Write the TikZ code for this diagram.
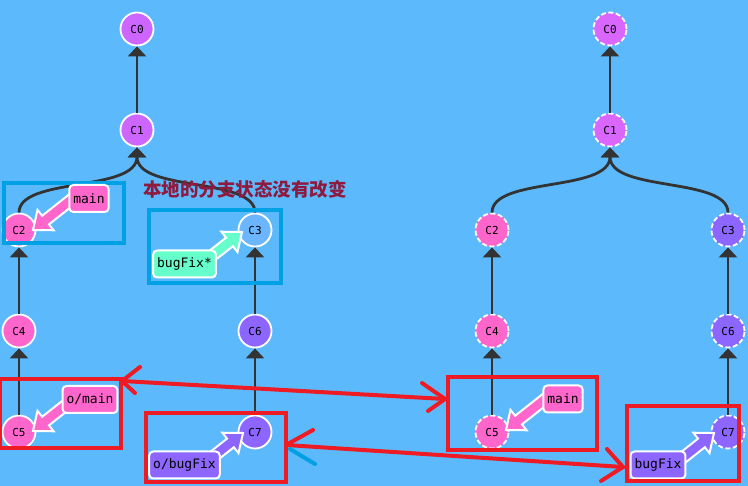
\documentclass[tikz,border=0pt]{standalone}
\usepackage{fontspec}
\usetikzlibrary{arrows.meta,calc}
\newfontfamily\cjkfont{Noto Sans CJK SC}
\newfontfamily\monof{DejaVu Sans Mono}
\definecolor{bg}{HTML}{5CBAFC}
\definecolor{edgegray}{HTML}{333333}
\definecolor{cviolet}{HTML}{CC66FF}
\definecolor{cviolet2}{HTML}{D966FF}
\definecolor{cpink}{HTML}{FF66CC}
\definecolor{cpurple}{HTML}{8C66FF}
\definecolor{clblue}{HTML}{6CB6FF}
\definecolor{cgreen}{HTML}{66FFCC}
\definecolor{boxblue}{HTML}{00A0E4}
\definecolor{boxred}{HTML}{ED1C24}
\definecolor{txtred}{HTML}{8E1B3F}
\newcommand\fatarr[3]{%
  \coordinate (fs) at (#1);
  \coordinate (fe) at (#2);
  \coordinate (fb) at ($(fe)!16pt!(fs)$);
  \filldraw[fill=#3, draw=white, line width=2pt, line join=miter]
    ($(fs)!5.5pt!90:(fe)$) -- ($(fb)!5.5pt!-90:(fs)$) -- ($(fb)!13pt!-90:(fs)$) -- (fe)
    -- ($(fb)!13pt!90:(fs)$) -- ($(fb)!5.5pt!90:(fs)$) -- ($(fs)!5.5pt!-90:(fe)$) -- cycle;}
\begin{document}
\begin{tikzpicture}[x=1pt,y=-1pt,
  commit/.style={circle, minimum size=33pt, inner sep=0pt, draw=white, line width=1.8pt,
    font=\monof\fontsize{11}{13}\selectfont, text=black},
  rcommit/.style={commit, dash pattern=on 5pt off 2.5pt},
  edge/.style={draw=edgegray, line width=2.8pt, -{Triangle[width=18pt,length=10pt]}},
  tag/.style={rounded corners=4pt, draw=white, line width=2pt,
    font=\monof\fontsize{13}{15}\selectfont, inner xsep=4pt, inner ysep=0pt,
    minimum height=27pt, text=black},
  bluebox/.style={draw=boxblue, line width=4.5pt, inner sep=0pt},
  redbox/.style={draw=boxred, line width=4.5pt, inner sep=0pt},
  redline/.style={draw=boxred, line width=4pt, line cap=round},
  blueline/.style={draw=boxblue, line width=4pt, line cap=round}]
\fill[bg] (0,0) rectangle (748,486);
\useasboundingbox (0,0) rectangle (748,486);

% left tree
\node[commit, fill=cviolet] (L0) at (137,29) {C0};
\node[commit, fill=cviolet] (L1) at (137,130) {C1};
\node[commit, fill=cpink] (L2) at (19,230) {C2};
\node[commit, fill=clblue] (L3) at (255,230) {C3};
\node[commit, fill=cpink] (L4) at (19,331) {C4};
\node[commit, fill=cpink] (L5) at (19,432) {C5};
\node[commit, fill=cpurple] (L6) at (255,331) {C6};
\node[commit, fill=cpurple] (L7) at (255,432) {C7};
% right tree
\node[rcommit, fill=cviolet2] (R0) at (610,29) {C0};
\node[rcommit, fill=cviolet2] (R1) at (610,130) {C1};
\node[rcommit, fill=cpink] (R2) at (492,230) {C2};
\node[rcommit, fill=cpurple] (R3) at (728,230) {C3};
\node[rcommit, fill=cpink] (R4) at (492,331) {C4};
\node[rcommit, fill=cpink] (R5) at (492,432) {C5};
\node[rcommit, fill=cpurple] (R6) at (728,331) {C6};
\node[rcommit, fill=cpurple] (R7) at (728,432) {C7};

\draw[edge] (L1) -- (L0);
\draw[edge] (L2.north) .. controls ($(L2.north)+(0,-36)$) and ($(L1.south)+(0,45)$) .. (L1.south);
\draw[edge] (L3.north) .. controls ($(L3.north)+(0,-36)$) and ($(L1.south)+(0,45)$) .. (L1.south);
\draw[edge] (L4) -- (L2);
\draw[edge] (L5) -- (L4);
\draw[edge] (L6) -- (L3);
\draw[edge] (L7) -- (L6);
\draw[edge] (R1) -- (R0);
\draw[edge] (R2.north) .. controls ($(R2.north)+(0,-36)$) and ($(R1.south)+(0,45)$) .. (R1.south);
\draw[edge] (R3.north) .. controls ($(R3.north)+(0,-36)$) and ($(R1.south)+(0,45)$) .. (R1.south);
\draw[edge] (R4) -- (R2);
\draw[edge] (R5) -- (R4);
\draw[edge] (R6) -- (R3);
\draw[edge] (R7) -- (R6);

% blue boxes
\node[bluebox, minimum width=120pt, minimum height=60pt] (B1) at (64,213) {};
\node[bluebox, minimum width=132pt, minimum height=73pt] (B2) at (215,246.5) {};

% label positions
\coordinate (pmain) at (89,198.5);
\coordinate (pbug) at (184.5,264);
\coordinate (pomain) at (90,399.5);
\coordinate (pobug) at (184.5,465);
\coordinate (prmain) at (563,399);
\coordinate (prbug) at (658,465);

\fatarr{$(pmain)+(-13,-2.5)$}{$(L2)+(14,0)$}{cpink}
\fatarr{$(pbug)+(14.5,2)$}{$(L3)+(-13,2)$}{cgreen}
\fatarr{$(pomain)+(-14,-2.5)$}{$(L5)+(14,-1)$}{cpink}
\fatarr{$(pobug)+(15.5,2)$}{$(L7)+(-12,1)$}{cpurple}
\fatarr{$(prmain)+(-14,-3)$}{$(R5)+(14,-2)$}{cpink}
\fatarr{$(prbug)+(13,2)$}{$(R7)+(-14,1)$}{cpurple}

\node[tag, fill=cpink] (tmain) at (pmain) {main};
\node[tag, fill=cgreen] (tbug) at (pbug) {bugFix*};
\node[tag, fill=cpink] (tomain) at (pomain) {o/main};
\node[tag, fill=cpurple] (tobug) at (pobug) {o/bugFix};
\node[tag, fill=cpink] (trmain) at (prmain) {main};
\node[tag, fill=cpurple] (trbug) at (prbug) {bugFix};

\node[font=\cjkfont\bfseries\fontsize{18.5}{20}\selectfont, text=txtred, inner sep=0pt] (note) at (245,189) {本地的分支状态没有改变};

% red boxes
\node[redbox, minimum width=121pt, minimum height=69pt] (RA) at (60.5,413.5) {};
\node[redbox, minimum width=140pt, minimum height=69pt] (RB) at (216,447.5) {};
\node[redbox, minimum width=149pt, minimum height=73pt] (RC) at (522.5,413.5) {};
\node[redbox, minimum width=112pt, minimum height=75pt] (RD) at (683,443.5) {};

% red arrows
\coordinate (a1l) at (122,381);
\coordinate (a1r) at (445,399);
\coordinate (a1lu) at (140,367);
\coordinate (a1ld) at (135,393);
\coordinate (a1ru) at (422,383);
\coordinate (a1rd) at (428,411);
\draw[redline] (a1l) -- (a1r);
\draw[redline] (a1lu) -- (a1l) -- (a1ld);
\draw[redline] (a1ru) -- (a1r) -- (a1rd);

\coordinate (a2l) at (286,445);
\coordinate (a2r) at (623,467);
\coordinate (a2lu) at (313,430);
\coordinate (a2ld) at (315,464);
\coordinate (a2ld0) at (290,449);
\coordinate (a2ru) at (607,449);
\coordinate (a2rd) at (601,481);
\draw[redline] (a2l) -- (a2r);
\draw[redline] (a2lu) -- (a2l);
\draw[blueline] (a2ld0) -- (a2ld);
\draw[redline] (a2ru) -- (a2r) -- (a2rd);
\end{tikzpicture}
\end{document}
